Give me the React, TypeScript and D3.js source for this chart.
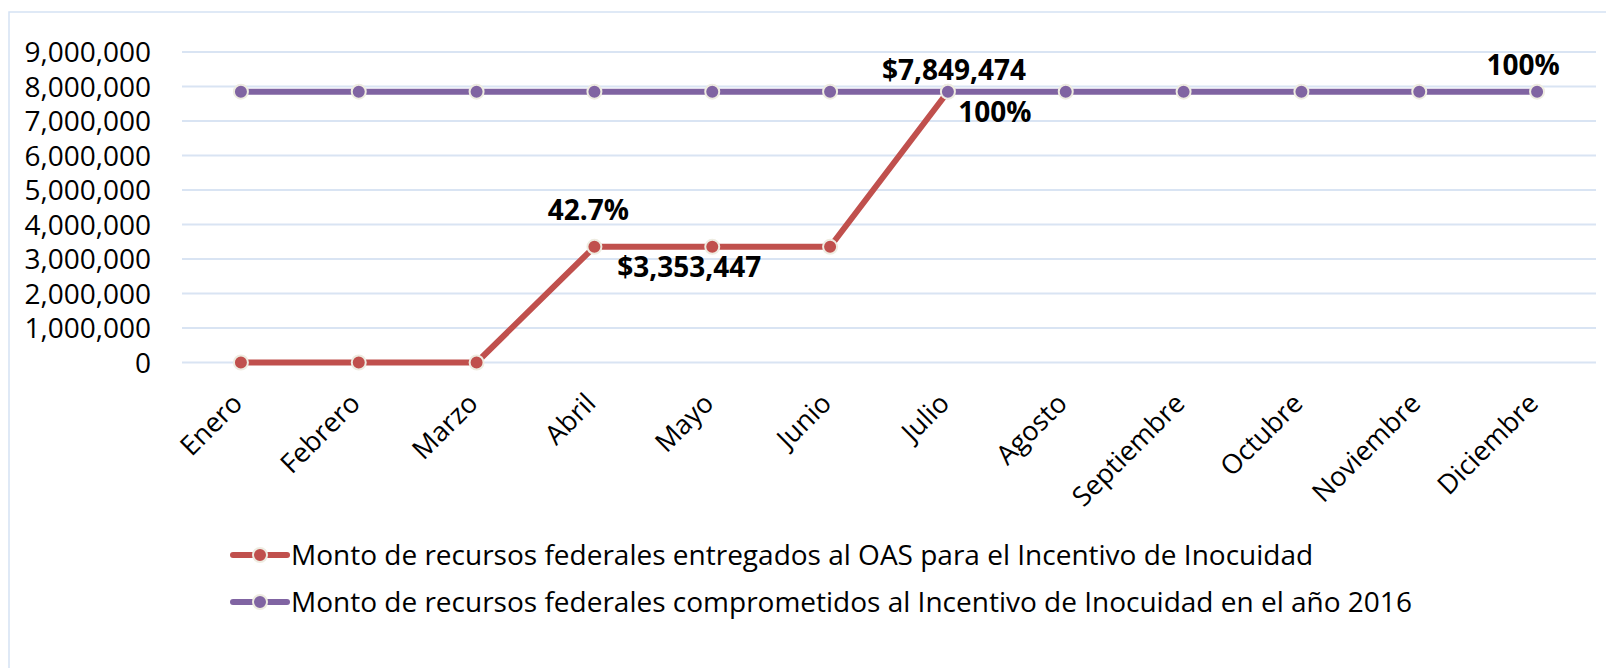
import React from "react";
import * as d3 from "d3";

const months = [
  "Enero", "Febrero", "Marzo", "Abril", "Mayo", "Junio",
  "Julio", "Agosto", "Septiembre", "Octubre", "Noviembre", "Diciembre",
];

// entregados al OAS (stops at Julio)
const entregados = [0, 0, 0, 3353447, 3353447, 3353447, 7849474];
// comprometidos en el año 2016
const comprometidos = [
  7849474, 7849474, 7849474, 7849474, 7849474, 7849474,
  7849474, 7849474, 7849474, 7849474, 7849474, 7849474,
];

const yTicks = [0, 1000000, 2000000, 3000000, 4000000, 5000000, 6000000, 7000000, 8000000, 9000000];

const seriesNames = [
  "Monto de recursos federales entregados al OAS para el Incentivo de Inocuidad",
  "Monto de recursos federales comprometidos al Incentivo de Inocuidad en el año 2016",
];

const dataLabels = [
  { serie: 0, mes: "Abril", text: "42.7%" },
  { serie: 0, mes: "Mayo", text: "$3,353,447" },
  { serie: 0, mes: "Julio", text: "$7,849,474" },
  { serie: 0, mes: "Julio", text: "100%" },
  { serie: 1, mes: "Diciembre", text: "100%" },
];

export default function App() {
  const width = 1606;
  const height = 668;
  const plot = { left: 182, right: 1596, top: 52, bottom: 362.5 };

  const x = d3.scaleBand().domain(months).range([plot.left, plot.right]);
  const cx = (m) => x(m) + x.bandwidth() / 2;
  const y = d3.scaleLinear().domain([0, 9000000]).range([plot.bottom, plot.top]);

  const colors = ["#C0504D", "#8064A2"];
  const series = [entregados, comprometidos];
  const fmt = d3.format(",");

  const line = d3
    .line()
    .x((d, i) => cx(months[i]))
    .y((d) => y(d));

  // offsets of each data label from its point (dx to centre, dy to baseline)
  const labelOffsets = [
    [-6, -27],
    [-23, 30],
    [6, -12],
    [47, 30],
    [-14, -17],
  ];

  const font = "'Open Sans', sans-serif";

  return (
    <svg
      width={width}
      height={height}
      style={{ position: "absolute", left: 0, top: 0, background: "#fff" }}
      fontFamily={font}
    >
      <rect x={9} y={12} width={1640} height={700} fill="#fff" stroke="#D5E2F4" strokeWidth={1.5} />

      {yTicks.map((t) => (
        <g key={t}>
          <line x1={plot.left} x2={plot.right} y1={y(t)} y2={y(t)} stroke="#D9E4F3" strokeWidth={2} />
          <text x={151} y={y(t)} dy="0.36em" textAnchor="end" fontSize={28} fill="#000">
            {fmt(t)}
          </text>
        </g>
      ))}

      {months.map((m) => (
        <text
          key={m}
          transform={`translate(${cx(m) + 3},${405}) rotate(-45)`}
          textAnchor="end"
          fontSize={27}
          fill="#000"
        >
          {m}
        </text>
      ))}

      {series.map((s, si) => (
        <g key={si}>
          <path d={line(s)} fill="none" stroke={colors[si]} strokeWidth={6} strokeLinejoin="round" />
          {s.map((v, i) => (
            <circle key={i} cx={cx(months[i])} cy={y(v)} r={7} fill={colors[si]} stroke="#EEECE1" strokeWidth={2} />
          ))}
        </g>
      ))}

      {dataLabels.map((l, i) => {
        const idx = months.indexOf(l.mes);
        const v = series[l.serie][idx];
        return (
          <text
            key={i}
            x={cx(l.mes) + labelOffsets[i][0]}
            y={y(v) + labelOffsets[i][1]}
            textAnchor="middle"
            fontSize={28}
            fontWeight="bold"
            fill="#000"
          >
            {l.text}
          </text>
        );
      })}

      {seriesNames.map((name, i) => {
        const ly = 555 + i * 47;
        return (
          <g key={name}>
            <line x1={233} x2={287} y1={ly} y2={ly} stroke={colors[i]} strokeWidth={6} strokeLinecap="round" />
            <circle cx={260} cy={ly} r={7} fill={colors[i]} stroke="#EEECE1" strokeWidth={2} />
            <text x={291} y={ly} dy="0.36em" fontSize={28} fill="#000">
              {name}
            </text>
          </g>
        );
      })}
    </svg>
  );
}
